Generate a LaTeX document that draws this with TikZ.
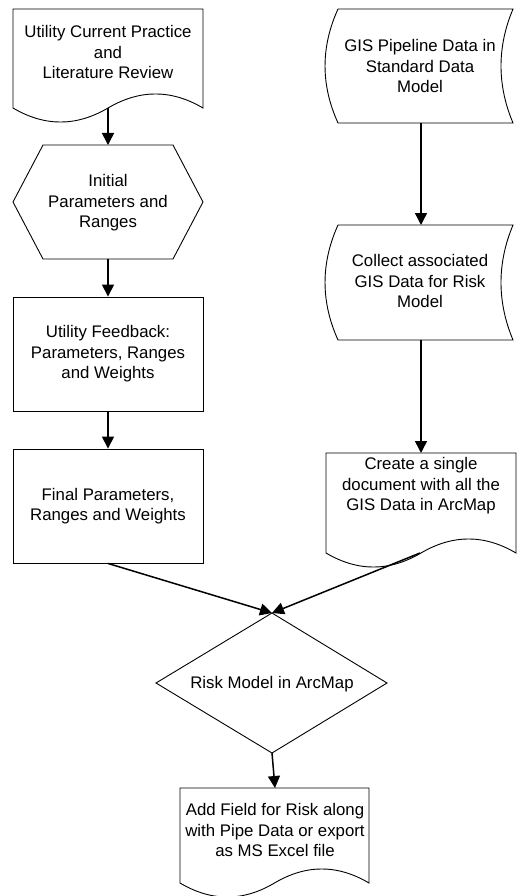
\documentclass[tikz,border=0pt]{standalone}
\usepackage{fontspec}
\setmainfont{Liberation Sans}
\usetikzlibrary{arrows.meta}
\begin{document}
\begin{tikzpicture}[x=1pt,y=-1pt,
  outline/.style={draw=black,line width=0.9pt,line join=miter},
  flow/.style={draw=black,line width=1.5pt,-{Triangle[length=12pt,width=12pt]}},
  txt/.style={align=center,font=\fontsize{16.8}{20.4}\selectfont,inner sep=0pt},
  procbox/.style={outline,txt,minimum width=190pt,minimum height=114pt}]
\useasboundingbox[fill=white] (0,0) rectangle (520,896);

% left column
\draw[outline] (13,108) -- (13,9) -- (203,9) -- (203,108)
  .. controls (171.3,89.3) and (139.7,89.3) .. (108,108)
  .. controls (76.3,126.7) and (44.7,126.7) .. (13,108) -- cycle;
\node[txt] (lit) at (108,52) {Utility Current Practice\\and\\Literature Review};
\coordinate (lit-out) at (108,108);

\draw[outline] (43,145) -- (173,145) -- (203,202) -- (173,259) -- (43,259) -- (13,202) -- cycle;
\node[txt] (init) at (108,203) {Initial\\Parameters and\\Ranges};
\coordinate (init-in) at (108,145);
\coordinate (init-out) at (108,259);

\node[procbox] (feedback) at (108,354) {Utility Feedback:\\Parameters, Ranges\\and Weights};
\node[procbox] (final) at (108,506) {Final Parameters,\\Ranges and Weights};

% right column
\draw[outline] (338,9) -- (513,9) .. controls (497,47) and (497,85) .. (513,123)
  -- (338,123) .. controls (320.7,85) and (320.7,47) .. (338,9) -- cycle;
\node[txt] (gis) at (420,66) {GIS Pipeline Data in\\Standard Data\\Model};
\coordinate (gis-out) at (421,123);

\draw[outline] (338,225) -- (513,225) .. controls (497,263.3) and (497,301.7) .. (513,340)
  -- (338,340) .. controls (320.7,301.7) and (320.7,263.3) .. (338,225) -- cycle;
\node[txt] (collect) at (420,281) {Collect associated\\GIS Data for Risk\\Model};
\coordinate (collect-in) at (421,225);
\coordinate (collect-out) at (421,340);

\draw[outline] (326,553) -- (326,453) -- (516,453) -- (516,553)
  .. controls (484.3,534.3) and (452.7,534.3) .. (421,553)
  .. controls (389.3,571.7) and (357.7,571.7) .. (326,553) -- cycle;
\node[txt] (create) at (421,486) {Create a single\\document with all the\\GIS Data in ArcMap};
\coordinate (create-in) at (421,453);
\coordinate (create-out) at (420,553);

% merge and output
\draw[outline] (272,613) -- (387,683) -- (272,753) -- (156,683) -- cycle;
\node[txt] (risk) at (272,684) {Risk Model in ArcMap};
\coordinate (risk-in) at (272,613);
\coordinate (risk-out) at (272,753);

\draw[outline] (180,883) -- (180,788) -- (369,788) -- (369,883)
  .. controls (337.5,864.3) and (306,864.3) .. (274.5,883)
  .. controls (243,901.7) and (211.5,901.7) .. (180,883) -- cycle;
\node[txt] (export) at (275,830) {Add Field for Risk along\\with Pipe Data or export\\as MS Excel file};
\coordinate (export-in) at (275,788);

% connectors
\draw[flow] (lit-out) -- (init-in);
\draw[flow] (init-out) -- (feedback.north);
\draw[flow] (feedback.south) -- (final.north);
\draw[flow] (gis-out) -- (collect-in);
\draw[flow] (collect-out) -- (create-in);
\draw[flow] (final.south) -- (risk-in);
\draw[flow] (create-out) -- (risk-in);
\draw[flow] (risk-out) -- (export-in);
\end{tikzpicture}
\end{document}
